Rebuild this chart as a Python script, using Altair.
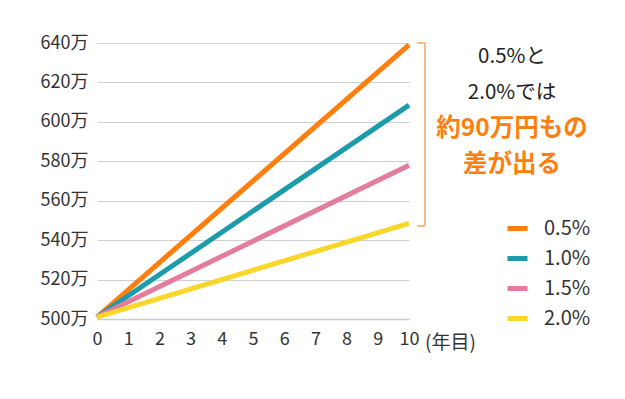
import altair as alt
import pandas as pd

series = ["0.5%", "1.0%", "1.5%", "2.0%"]
colors = ["#FF7F0E", "#1C9BAA", "#E47C9E", "#F8D62A"]
years = [0, 10]
start_values = [501, 501, 501, 501]
end_values = [639, 608.5, 578, 548.5]
y_ticks = [500, 520, 540, 560, 580, 600, 620, 640]
x_ticks = list(range(0, 11))

rows = []
for s, a, b in zip(series, start_values, end_values):
    rows.append({"series": s, "year": years[0], "value": a})
    rows.append({"series": s, "year": years[1], "value": b})
df = pd.DataFrame(rows)

FONT = "Noto Sans CJK JP"

lines = alt.Chart(df).mark_line(strokeWidth=5, strokeCap="butt").encode(
    x=alt.X("year:Q", scale=alt.Scale(domain=[0, 10], nice=False),
            axis=alt.Axis(values=x_ticks, title=None, grid=False, ticks=False,
                          domainColor="#cccccc", domainWidth=1.5, labelFontSize=18,
                          labelColor="#333333", labelFont=FONT, labelPadding=11,
                          labelFlush=False)),
    y=alt.Y("value:Q", scale=alt.Scale(domain=[500, 640], nice=False, zero=False),
            axis=alt.Axis(values=y_ticks, title=None, domain=False, ticks=False,
                          gridColor="#d0d0d0", gridWidth=1.2, labelFontSize=18,
                          labelColor="#333333", labelFont=FONT, labelPadding=9,
                          labelExpr="datum.value + '万'")),
    color=alt.Color("series:N", scale=alt.Scale(domain=series, range=colors),
                    legend=alt.Legend(title=None, orient="none", legendX=408, legendY=173,
                                      symbolType="stroke", symbolStrokeWidth=5,
                                      symbolSize=400, labelFontSize=20, labelFont=FONT,
                                      labelColor="#333333", rowPadding=7, labelOffset=14)),
    detail="series:N",
)

unit = alt.Chart(pd.DataFrame({"t": ["(年目)"]})).mark_text(
    font=FONT, fontSize=19, color="#333333", align="left", baseline="middle"
).encode(x=alt.value(328), y=alt.value(300), text="t:N")

bracket_v = alt.Chart(pd.DataFrame({"a": [0]})).mark_rule(color="#F9A25E", strokeWidth=1.5).encode(
    x=alt.value(328), y=alt.value(0), y2=alt.value(183))
bracket_t = alt.Chart(pd.DataFrame({"a": [0]})).mark_rule(color="#F9A25E", strokeWidth=1.5).encode(
    x=alt.value(320), x2=alt.value(328), y=alt.value(0))
bracket_b = alt.Chart(pd.DataFrame({"a": [0]})).mark_rule(color="#F9A25E", strokeWidth=1.5).encode(
    x=alt.value(320), x2=alt.value(328), y=alt.value(183))

ann1 = alt.Chart(pd.DataFrame({"t": ["0.5%と"]})).mark_text(
    font=FONT, fontSize=20.5, color="#222222", align="center", baseline="middle"
).encode(x=alt.value(415), y=alt.value(14), text="t:N")
ann2 = alt.Chart(pd.DataFrame({"t": ["2.0%では"]})).mark_text(
    font=FONT, fontSize=20.5, color="#222222", align="center", baseline="middle"
).encode(x=alt.value(415), y=alt.value(50), text="t:N")
ann3 = alt.Chart(pd.DataFrame({"t": ["約90万円もの"]})).mark_text(
    font=FONT, fontSize=24.5, fontWeight="bold", color="#FF7F0E", align="center", baseline="middle"
).encode(x=alt.value(415), y=alt.value(86), text="t:N")
ann4 = alt.Chart(pd.DataFrame({"t": ["差が出る"]})).mark_text(
    font=FONT, fontSize=24.5, fontWeight="bold", color="#FF7F0E", align="center", baseline="middle"
).encode(x=alt.value(415), y=alt.value(122), text="t:N")

chart = alt.layer(lines, unit, bracket_v, bracket_t, bracket_b, ann1, ann2, ann3, ann4).properties(
    width=312, height=276,
    autosize=alt.AutoSizeParams(type="none"),
    padding={"left": 89, "top": 35, "right": 208, "bottom": 72},
).configure(background="white").configure_view(stroke=None)

chart.save("out.html", embed_options={"renderer": "svg", "actions": False})
